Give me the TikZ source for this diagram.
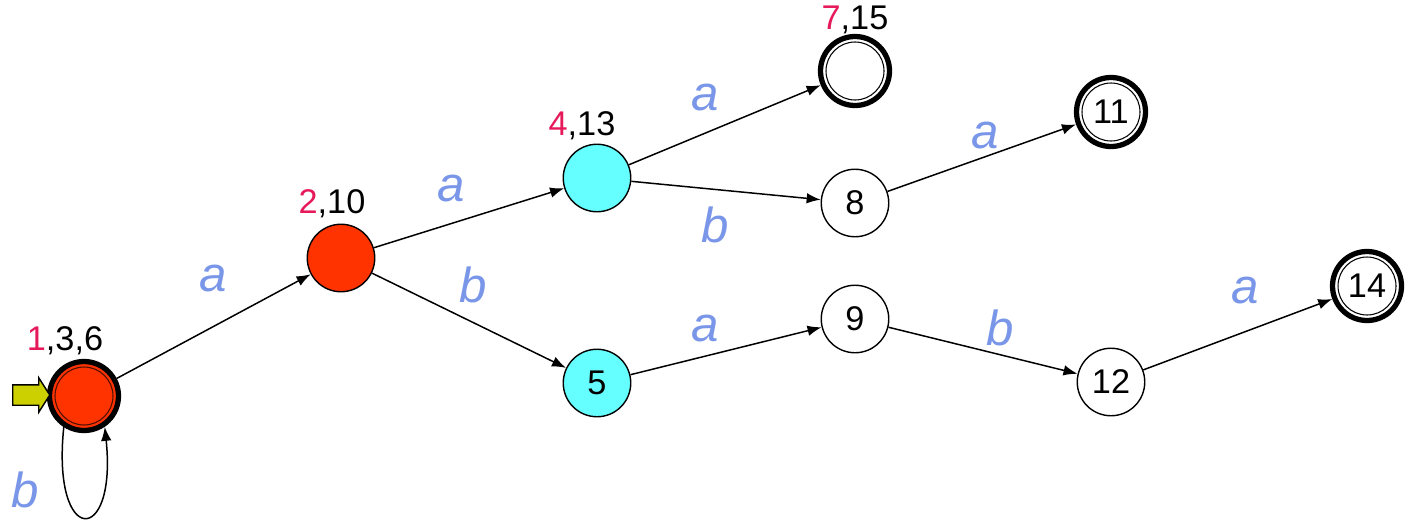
\documentclass[tikz,border=0pt]{standalone}
\usepackage{fontspec}
\setmainfont{Liberation Sans}
\usepackage{xcolor}
\definecolor{dfared}{RGB}{255,51,0}
\definecolor{dfacyan}{RGB}{102,255,255}
\definecolor{dfapink}{RGB}{230,25,90}
\definecolor{dfablue}{RGB}{122,150,232}
\definecolor{dfayellow}{RGB}{204,208,0}
\usepackage{tikz}
\usetikzlibrary{arrows.meta, shapes.arrows}

\begin{document}
\begin{tikzpicture}[
  state/.style={circle, draw, line width=0.8pt, minimum size=1.35cm, inner sep=0pt, font=\fontsize{19.5}{20}\selectfont},
  accept/.style={state, line width=3pt, minimum size=1.38cm},
  setlab/.style={font=\fontsize{19.5}{20}\selectfont},
  sym/.style={dfablue, font=\fontsize{28}{28}\selectfont\itshape},
  trans/.style={-{Latex[length=8pt,width=6pt]}, line width=0.85pt}
]
  \useasboundingbox (0,0) rectangle (28.2,10.58);

  % states
  \node[accept, fill=dfared] (s) at (1.68,2.66) {};
  \node[state, fill=dfared] (n2) at (6.82,5.42) {};
  \node[state, fill=dfacyan] (n4) at (11.94,7.02) {};
  \node[state, fill=dfacyan] (n5) at (11.94,2.92) {5};
  \node[accept] (n7) at (17.10,9.16) {};
  \node[state] (n8) at (17.10,6.52) {8};
  \node[state] (n9) at (17.10,4.20) {9};
  \node[accept] (n11) at (22.22,8.34) {11};
  \node[state] (n12) at (22.22,2.94) {12};
  \node[accept] (n14) at (27.34,4.86) {14};
  \foreach \n in {n7,n11,n14}
    \draw[line width=0.6pt] (\n.center) circle (0.58cm);
  \draw[line width=0.6pt, draw=black!70!dfared] (s.center) circle (0.58cm);

  % subset labels
  \node[setlab] (l1) at (1.30,3.76) {\textcolor{dfapink}{1},3,6};
  \node[setlab] (l2) at (6.64,6.50) {\textcolor{dfapink}{2},10};
  \node[setlab] (l4) at (11.64,8.06) {\textcolor{dfapink}{4},13};
  \node[setlab] (l7) at (17.10,10.18) {\textcolor{dfapink}{7},15};

  % start marker
  \node[single arrow, draw, line width=0.8pt, fill=dfayellow, inner xsep=0pt, inner ysep=0.19cm,
        minimum height=0.74cm, single arrow head extend=0.14cm,
        single arrow tip angle=115] (entry) at (0.56,2.68) {};

  % transitions
  \draw[trans] (s) -- (n2);
  \draw[trans] (n2) -- (n4);
  \draw[trans] (n2) -- (n5);
  \draw[trans] (n4) -- (n7);
  \draw[trans] (n4) -- (n8);
  \draw[trans] (n8) -- (n11);
  \draw[trans] (n5) -- (n9);
  \draw[trans] (n9) -- (n12);
  \draw[trans] (n12) -- (n14);
  \draw[trans] (s.237) .. controls +(-0.25,-2.4) and +(0.25,-2.4) .. (s.304);

  % symbols
  \node[sym] (a1) at (4.26,5.02) {a};
  \node[sym] (a2) at (9.02,6.82) {a};
  \node[sym] (b1) at (9.46,4.88) {b};
  \node[sym] (a3) at (14.10,8.64) {a};
  \node[sym] (b2) at (14.30,6.08) {b};
  \node[sym] (a4) at (19.70,7.88) {a};
  \node[sym] (a5) at (14.10,4.02) {a};
  \node[sym] (b3) at (20.00,4.02) {b};
  \node[sym] (a6) at (24.90,4.78) {a};
  \node[sym] (b4) at (0.50,0.78) {b};
\end{tikzpicture}
\end{document}
